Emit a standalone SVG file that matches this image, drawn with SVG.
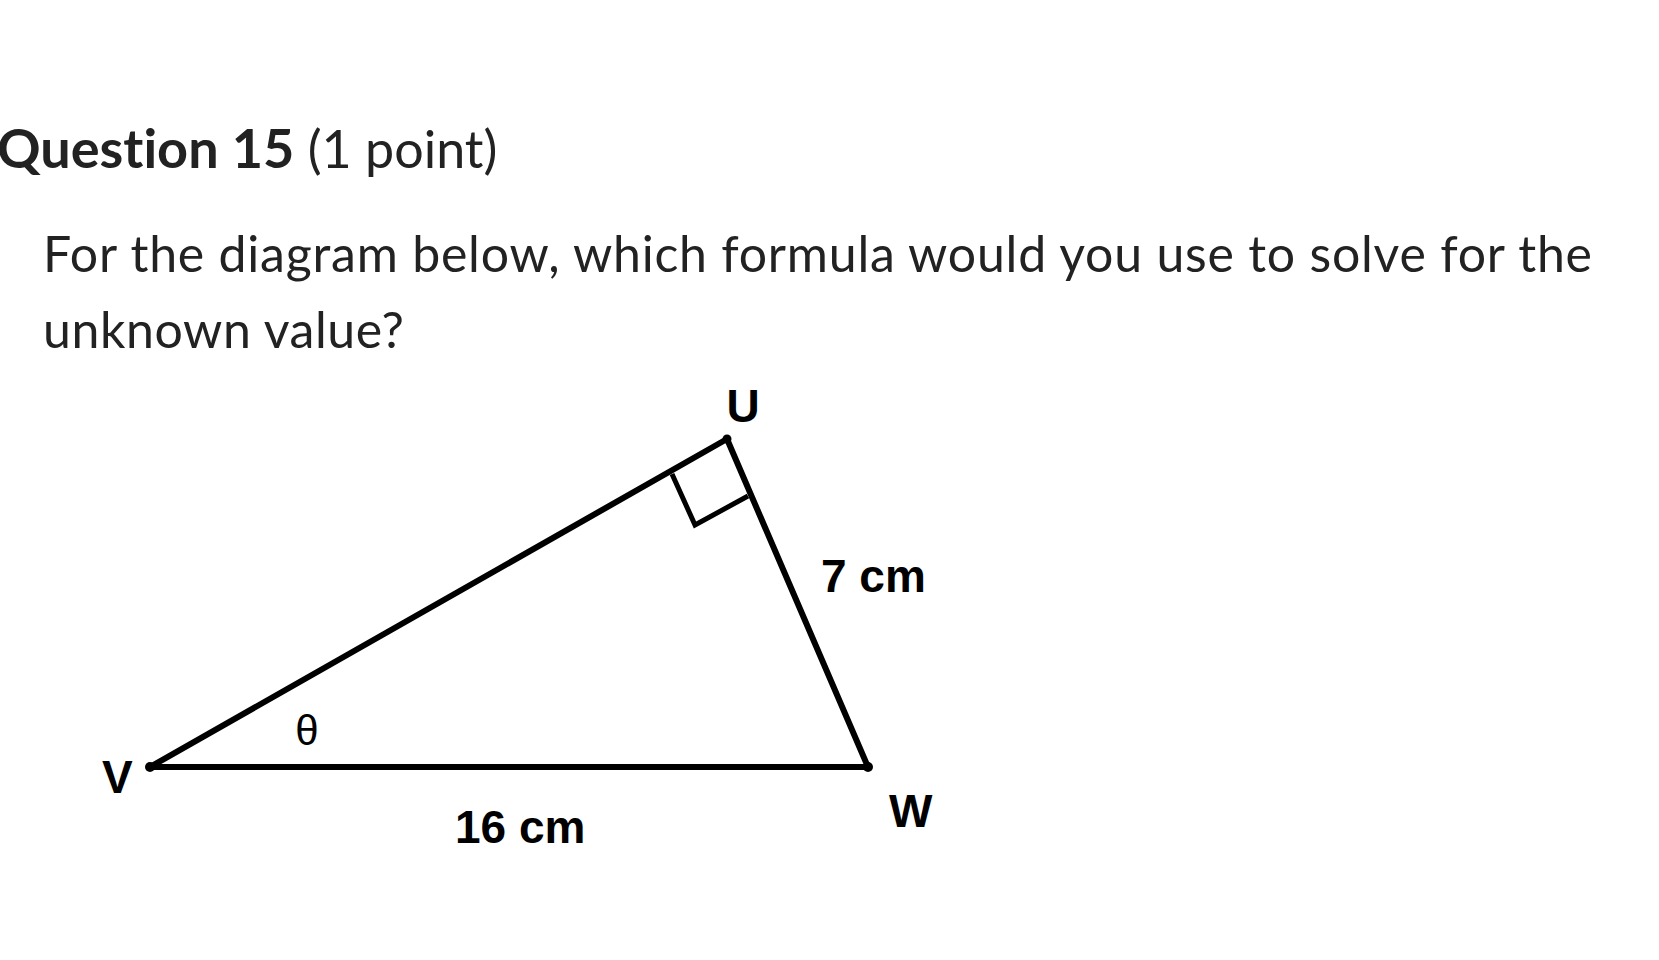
<svg xmlns="http://www.w3.org/2000/svg" width="1659" height="960" viewBox="0 0 1659 960">
<style>
.h{font-family:Lato,"Noto Sans",sans-serif;fill:#222;font-variant-ligatures:none}
.b{font-family:Lato,"Noto Sans",sans-serif;fill:#222;font-size:50px;font-variant-ligatures:none}
.lbl{font-family:"Liberation Sans",Arial,sans-serif;font-weight:bold;fill:#000;font-size:46px}
.edge{stroke:#000;stroke-width:6;fill:none;stroke-linecap:round;stroke-linejoin:round}
.sq{stroke:#000;stroke-width:5;fill:none;stroke-linejoin:miter}
</style>
<rect width="1659" height="960" fill="#fff"/>
<g id="heading">
<text class="h" x="-3" y="168" font-size="54"><tspan font-weight="bold">Question 15</tspan><tspan font-size="52"> (1 point)</tspan></text>
</g>
<g id="prompt">
<text class="b" x="43" y="272" textLength="1549" lengthAdjust="spacing">For the diagram below, which formula would you use to solve for the</text>
<text class="b" x="43" y="348" textLength="361" lengthAdjust="spacing">unknown value?</text>
</g>
<g id="connectors">
<line class="edge" x1="150" y1="767" x2="868" y2="767"/>
<line class="edge" x1="150" y1="767" x2="727" y2="439"/>
<line class="edge" x1="727" y1="439" x2="868" y2="767"/>
<polyline class="sq" points="672,474 695,525 748,496"/>
</g>
<g id="node-V">
<circle cx="150" cy="767" r="5"/>
<text class="lbl" x="102" y="793">V</text>
</g>
<g id="node-U">
<circle cx="727" cy="439" r="4.5"/>
<text class="lbl" x="743" y="422" text-anchor="middle">U</text>
</g>
<g id="node-W">
<circle cx="868" cy="767" r="5"/>
<text class="lbl" x="889" y="827">W</text>
</g>
<g id="labels">
<text class="lbl" x="455" y="843">16 cm</text>
<text class="lbl" x="821" y="592">7 cm</text>
<text x="307" y="745" text-anchor="middle" font-family="'Liberation Sans',Arial,sans-serif" font-size="42" fill="#000">θ</text>
</g>
</svg>
